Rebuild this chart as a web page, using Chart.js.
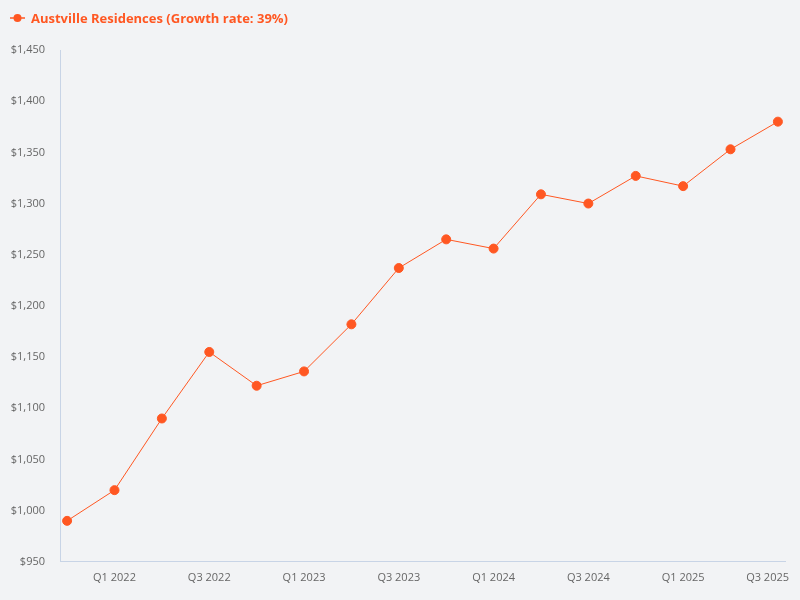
<!DOCTYPE html>
<html>
<head>
<meta charset="utf-8">
<script src="https://cdn.jsdelivr.net/npm/chart.js@4.4.1/dist/chart.umd.min.js"></script>
<style>
html,body{margin:0;padding:0;background:#F2F3F5;}
#wrap{position:relative;width:800px;height:600px;}
#legend{position:absolute;left:10px;top:9px;font-family:"Open Sans",sans-serif;font-weight:bold;font-size:13px;color:#FF5722;display:flex;align-items:center;}
#legend svg{margin-right:6px;}
</style>
</head>
<body>
<div id="wrap">
<canvas id="c" width="800" height="600"></canvas>
<div id="legend"><svg width="15" height="10"><line x1="0" y1="5" x2="15" y2="5" stroke="#FF5722" stroke-width="1.5"/><circle cx="7.5" cy="5" r="4" fill="#FF5722"/></svg><span id="legtext"></span></div>
</div>
<script>
const seriesName = "Austville Residences";
const quarters = ["Q4 2021","Q1 2022","Q2 2022","Q3 2022","Q4 2022","Q1 2023","Q2 2023","Q3 2023","Q4 2023","Q1 2024","Q2 2024","Q3 2024","Q4 2024","Q1 2025","Q2 2025","Q3 2025"];
const prices = [990,1020,1090,1155,1122,1136,1182,1237,1265,1256,1309,1300,1327,1317,1353,1380];
const shownTickIndex = [1,3,5,7,9,11,13,15];

const growth = Math.round((prices[prices.length-1]/prices[0]-1)*100);
document.getElementById('legtext').textContent = seriesName + " (Growth rate: " + growth + "%)";

const color = "#FF5722";
const font = {family:"'Open Sans', sans-serif", size:11};

const keepLastLabelInside = {
  id:'keepLastLabelInside',
  beforeDraw(chart){
    const s = chart.scales.x;
    const items = s.getLabelItems();
    if(!items.length) return;
    const last = items[items.length-1];
    last.options.textAlign = 'right';
    last.options.translation = [chart.width - 11, last.options.translation[1]];
  }
};

new Chart(document.getElementById('c'), {
  type:'line',
  data:{datasets:[{label:seriesName,data:prices.map((v,i)=>({x:i,y:v})),borderColor:color,backgroundColor:color,borderWidth:1,pointRadius:4.5,pointHoverRadius:4.5,tension:0}]},
  options:{
    responsive:false,animation:false,
    layout:{padding:{top:50,right:15,bottom:7,left:0}},
    plugins:{legend:{display:false},tooltip:{enabled:false}},
    scales:{
      x:{type:'linear',min:-0.15,max:quarters.length-1+0.15,
        afterBuildTicks:(s)=>{s.ticks=shownTickIndex.map(v=>({value:v}));},
        afterFit:(s)=>{s.paddingRight=0;s.paddingLeft=0;},
        grid:{display:false,drawTicks:false},
        border:{display:true,color:'#C8D4E6',width:1},
        ticks:{font:font,color:'#666',padding:9,maxRotation:0,autoSkip:false,callback:(v)=>quarters[v]}},
      y:{min:950,max:1450,
        afterFit:(s)=>{s.width=60;s.paddingTop=0;s.paddingBottom=0;},
        grid:{display:false,drawTicks:false},
        border:{display:true,color:'#C8D4E6',width:1},
        ticks:{font:font,color:'#666',padding:15,stepSize:50,callback:(v)=>'$'+v.toLocaleString('en-US')}}
    }
  },
  plugins:[keepLastLabelInside]
});
</script>
</body>
</html>
